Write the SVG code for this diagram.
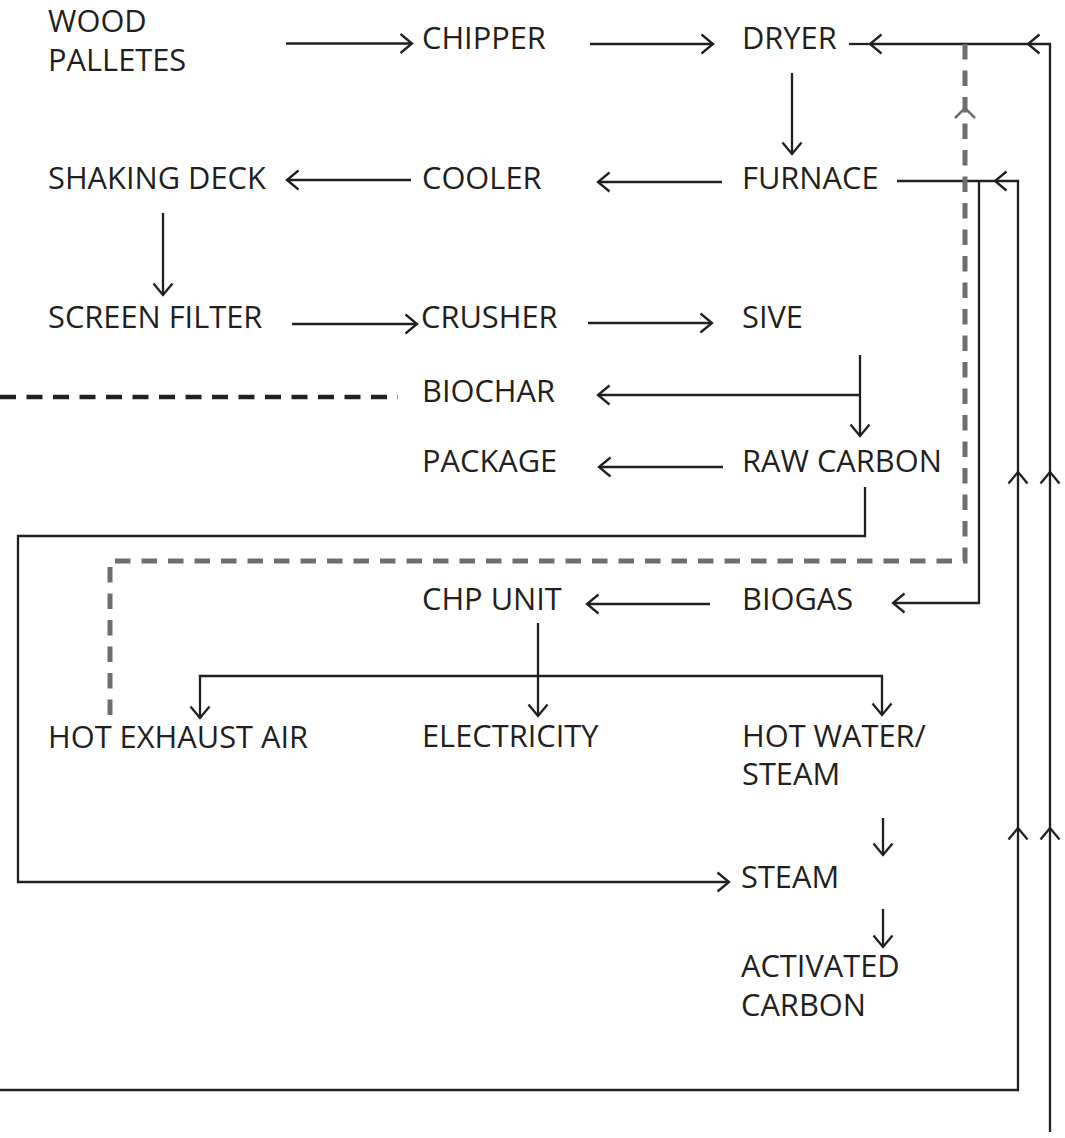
<svg xmlns="http://www.w3.org/2000/svg" width="1065" height="1138" viewBox="0 0 1065 1138">
<style>
text{font-family:"Open Sans","Noto Sans","DejaVu Sans",sans-serif;font-size:30.8px;fill:#231f20}
.ln{fill:none;stroke:#231f20;stroke-width:2.3}
.ar{marker-end:url(#ah)}
.gd{fill:none;stroke:#6d6e71;stroke-width:5;stroke-dasharray:15.5 11}
.bd{fill:none;stroke:#231f20;stroke-width:4.5;stroke-dasharray:16 10.5}
</style>
<defs>
<marker id="ah" markerUnits="userSpaceOnUse" orient="auto" markerWidth="30" markerHeight="30" refX="0" refY="0" viewBox="-15 -15 30 30" overflow="visible">
<path d="M-11.5,-9.5 L0,0 L-11.5,9.5" fill="none" stroke="#231f20" stroke-width="2.3"/>
</marker>
</defs>
<rect width="1065" height="1138" fill="#ffffff"/>
<g id="connectors">
<path class="ln ar" d="M286,43.5 H412"/>
<path class="ln ar" d="M590,44 H713"/>
<path class="ln ar" d="M1050,1132 V828"/>
<path class="ln ar" d="M1050,828 V472"/>
<path class="ln ar" d="M1050,472 V44 H1028"/>
<path class="ln ar" d="M1028,44 H870"/>
<path class="ln" d="M870,44 H849"/>
<path class="ln ar" d="M792,73 V154"/>
<path class="ln ar" d="M722,182 H598"/>
<path class="ln ar" d="M411,180 H287"/>
<path class="ln ar" d="M163,213 V295"/>
<path class="ln ar" d="M292,324 H417"/>
<path class="ln ar" d="M588,323 H712"/>
<path class="ln ar" d="M860,355 V436"/>
<path class="ln ar" d="M860,395 H598"/>
<path class="ln ar" d="M723,467 H599"/>
<path class="ln ar" d="M865,487 V536 H18 V882 H729"/>
<path class="ln ar" d="M0,1090 H1018 V828"/>
<path class="ln ar" d="M1018,828 V472"/>
<path class="ln ar" d="M1018,472 V181 H995"/>
<path class="ln" d="M995,181 H897"/>
<path class="ln ar" d="M979,181 V603 H893"/>
<path class="ln ar" d="M710,604 H587"/>
<path class="ln ar" d="M538,623 V716"/>
<path class="ln ar" d="M538,676 H200 V718"/>
<path class="ln ar" d="M538,676 H882 V715"/>
<path class="ln ar" d="M883,818 V855"/>
<path class="ln ar" d="M883,909 V947"/>
<path class="bd" d="M0,397 H398"/>
<path class="gd" d="M110,715 V561 H965 V43"/>
<path fill="none" stroke="#6d6e71" stroke-width="2.6" d="M955,118 L965,108 L975,118"/>
</g>
<g id="n-wood"><text x="48" y="32">WOOD</text><text x="48" y="71">PALLETES</text></g>
<g id="n-chipper"><text x="422" y="49">CHIPPER</text></g>
<g id="n-dryer"><text x="742" y="49">DRYER</text></g>
<g id="n-shaking"><text x="48" y="189">SHAKING DECK</text></g>
<g id="n-cooler"><text x="422" y="189">COOLER</text></g>
<g id="n-furnace"><text x="742" y="189">FURNACE</text></g>
<g id="n-screen"><text x="48" y="328">SCREEN FILTER</text></g>
<g id="n-crusher"><text x="421" y="328">CRUSHER</text></g>
<g id="n-sive"><text x="742" y="328">SIVE</text></g>
<g id="n-biochar"><text x="422" y="402">BIOCHAR</text></g>
<g id="n-package"><text x="422" y="472">PACKAGE</text></g>
<g id="n-rawcarbon"><text x="742" y="472">RAW CARBON</text></g>
<g id="n-chp"><text x="422" y="610">CHP UNIT</text></g>
<g id="n-biogas"><text x="742" y="610">BIOGAS</text></g>
<g id="n-hotexhaust"><text x="48" y="748">HOT EXHAUST AIR</text></g>
<g id="n-electricity"><text x="422" y="747">ELECTRICITY</text></g>
<g id="n-hotwater"><text x="742" y="747">HOT WATER/</text><text x="742" y="785">STEAM</text></g>
<g id="n-steam"><text x="741" y="888">STEAM</text></g>
<g id="n-activated"><text x="741" y="977">ACTIVATED</text><text x="741" y="1016">CARBON</text></g>
</svg>
